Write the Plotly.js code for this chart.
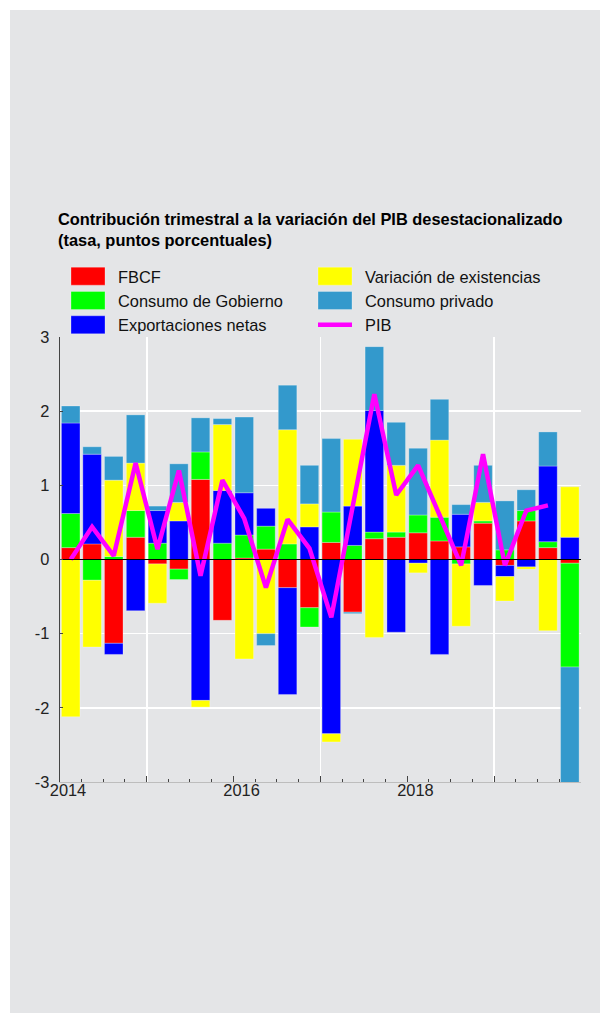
<!DOCTYPE html>
<html>
<head>
<meta charset="utf-8">
<script src="https://cdn.plot.ly/plotly-3.0.1.min.js"></script>
<style>
  html, body { margin: 0; padding: 0; background: #ffffff; }
  #chart { position: absolute; left: 10px; top: 10px; width: 590px; height: 1003px; }
</style>
</head>
<body>
<div id="chart"></div>
<script>
// Quarter start dates, 2014Q1 .. 2019Q4
var quarters = [
  '2014-01-01','2014-04-01','2014-07-01','2014-10-01',
  '2015-01-01','2015-04-01','2015-07-01','2015-10-01',
  '2016-01-01','2016-04-01','2016-07-01','2016-10-01',
  '2017-01-01','2017-04-01','2017-07-01','2017-10-01',
  '2018-01-01','2018-04-01','2018-07-01','2018-10-01',
  '2019-01-01','2019-04-01','2019-07-01','2019-10-01'
];

var fbcf = [0.16, 0.21, -1.13, 0.30, -0.06, -0.13, 1.08, -0.82,
            0.02, 0.14, -0.38, -0.65, 0.23, -0.71, 0.28, 0.30,
            0.36, 0.25, 0.17, 0.49, -0.08, 0.52, 0.16, -0.05];

var gobierno = [0.46, -0.28, 0.04, 0.36, 0.22, -0.14, 0.37, 0.22,
                0.31, 0.31, 0.21, -0.26, 0.41, 0.19, 0.09, 0.07,
                0.24, 0.32, -0.06, 0.03, 0.13, 0.14, 0.08, -1.40];

var exportaciones = [1.22, 1.21, -0.15, -0.69, 0.44, 0.52, -1.90, 0.71,
                     0.57, 0.24, -1.44, 0.44, -2.35, 0.53, 1.64, -0.98,
                     -0.05, -1.28, 0.44, -0.35, -0.15, -0.10, 1.02, 0.30];

var existencias = [-2.12, -0.90, 1.03, 0.64, -0.53, 0.25, -0.09, 0.89,
                   -1.34, -1.00, 1.54, 0.31, -0.11, 0.90, -1.05, 0.90,
                   -0.13, 1.04, -0.84, 0.25, -0.33, -0.03, -0.96, 0.68];

var privado = [0.23, 0.10, 0.32, 0.65, 0.06, 0.52, 0.46, 0.08,
               1.02, -0.16, 0.60, 0.52, 0.99, -0.02, 0.86, 0.58,
               0.90, 0.55, 0.13, 0.50, 0.66, 0.28, 0.46, -1.70];

var pib = [0.00, 0.44, 0.05, 1.30, 0.14, 1.20, -0.22, 1.07,
           0.55, -0.38, 0.54, 0.15, -0.78, 0.72, 2.23, 0.87,
           1.27, 0.60, -0.08, 1.42, -0.08, 0.66, 0.73, null];

var labeledYears = ['2014-01-01', '2016-01-01', '2018-01-01'];
var labeledYearText = ['2014', '2016', '2018'];
var gridYears = ['2015-01-01', '2017-01-01', '2019-01-01'];

var yTickVals = [-3, -2, -1, 0, 1, 2, 3];
var yTickText = ['-3', '-2', '-1', '0', '1', '2', '3'];

var seriesNames = ['FBCF', 'Consumo de Gobierno', 'Exportaciones netas',
                   'Variación de existencias', 'Consumo privado', 'PIB'];

var titleLine1 = 'Contribución trimestral a la variación del PIB desestacionalizado';
var titleLine2 = '(tasa, puntos porcentuales)';

// ---- build ----
var DAY = 86400000;
function centerOf(q) {
  var t = new Date(q + 'T00:00:00Z').getTime() + 45 * DAY;
  return new Date(t).toISOString().slice(0, 10);
}
var xs = quarters.map(centerOf);
var barWidth = 78 * DAY;

var FONT = 'Liberation Sans, Arial, Helvetica, sans-serif';
var BG = '#e4e5e7';

function barTrace(name, vals, color, rank) {
  return {
    type: 'bar', name: name, x: xs, y: vals, width: barWidth,
    marker: { color: color, line: { color: 'rgba(255,255,255,0.35)', width: 0.8 } },
    legendrank: rank, hoverinfo: 'skip'
  };
}

var traces = [
  barTrace(seriesNames[0], fbcf, '#ff0000', 1),
  barTrace(seriesNames[1], gobierno, '#00ff00', 3),
  barTrace(seriesNames[2], exportaciones, '#0000ff', 5),
  barTrace(seriesNames[3], existencias, '#ffff00', 2),
  barTrace(seriesNames[4], privado, '#3399cc', 4),
  {
    type: 'scatter', mode: 'lines', name: seriesNames[5], x: xs, y: pib,
    xaxis: 'x2', line: { color: '#ff00ff', width: 4.5 },
    legendrank: 6, hoverinfo: 'skip', connectgaps: false
  }
];

var xrange = ['2014-01-01', '2020-01-01'];

var layout = {
  width: 590, height: 1003,
  paper_bgcolor: BG, plot_bgcolor: BG,
  margin: { l: 49.5, r: 19.3, t: 326.7, b: 231.3, pad: 0, autoexpand: false },
  barmode: 'relative', bargap: 0,
  showlegend: true,
  font: { family: FONT, size: 16.4, color: '#111' },
  title: {
    text: titleLine1 + '<br>' + titleLine2,
    font: { family: FONT, size: 16.4, weight: 'bold', color: '#000' },
    x: 48 / 590, xref: 'container', xanchor: 'left',
    y: 1 - 215 / 1003, yref: 'container', yanchor: 'top'
  },
  legend: {
    orientation: 'h', traceorder: 'normal',
    x: 48 / 590, xref: 'container', xanchor: 'left',
    y: 1 - 249 / 1003, yref: 'container', yanchor: 'top',
    bgcolor: 'rgba(0,0,0,0)', borderwidth: 0,
    itemwidth: 50,
    entrywidth: 182, entrywidthmode: 'pixels',
    font: { family: FONT, size: 16.4, color: '#111' }
  },
  xaxis: {
    type: 'date', range: xrange, fixedrange: true,
    showgrid: true, gridcolor: '#ffffff', gridwidth: 1.5,
    tickmode: 'array', tickvals: gridYears, showticklabels: false,
    ticks: 'inside', ticklen: 6, tickcolor: '#444', tickwidth: 1,
    showline: true, linecolor: '#bdbdbd', linewidth: 1,
    zeroline: false,
    minor: { dtick: 'M3', tick0: '2014-01-01', ticks: 'inside', ticklen: 3, tickcolor: '#444', tickwidth: 1, showgrid: false }
  },
  xaxis2: {
    type: 'date', range: xrange, overlaying: 'x', side: 'bottom', anchor: 'y', fixedrange: true,
    showgrid: false, zeroline: false, showline: false,
    tickmode: 'array', tickvals: labeledYears, ticktext: labeledYearText,
    ticks: 'inside', ticklen: 6, tickcolor: '#444', tickwidth: 1,
    ticklabelshift: 8, ticklabelstandoff: -3,
    tickfont: { family: FONT, size: 16.4, color: '#222' }
  },
  yaxis: {
    range: [-3, 3], fixedrange: true,
    tickmode: 'array', tickvals: yTickVals, ticktext: yTickText,
    showgrid: true, gridcolor: '#ffffff', gridwidth: 1.5,
    zeroline: true, zerolinecolor: '#000000', zerolinewidth: 1.2,
    zerolinelayer: 'above traces',
    showline: true, linecolor: '#444', linewidth: 1.3,
    ticks: 'inside', ticklen: 3, tickcolor: '#444',
    ticklabelstandoff: 6,
    tickfont: { family: FONT, size: 16.4, color: '#222' }
  }
};

Plotly.newPlot('chart', traces, layout, { displayModeBar: false, staticPlot: true }).then(function (gd) {
  // enlarge legend swatches to match the reference's wide rectangles
  var items = gd.querySelectorAll('.legend .traces');
  items.forEach(function (it) {
    var pts = it.querySelectorAll('.legendpoints path');
    pts.forEach(function (p) { p.setAttribute('d', 'M17,9H-17V-9H17Z'); });
    var lines = it.querySelectorAll('.legendlines path');
    lines.forEach(function (p) {
      var bb = p.getBBox();
      var cx = bb.x + bb.width / 2;
      p.setAttribute('d', 'M' + (cx - 17) + ',0h34');
    });
  });
});
</script>
</body>
</html>
